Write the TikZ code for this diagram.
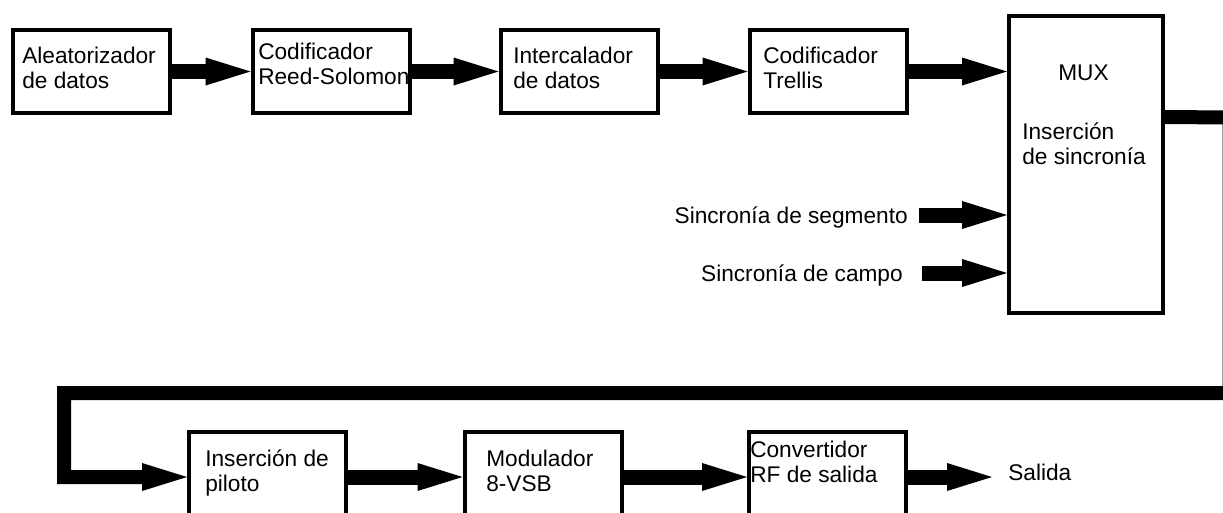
\documentclass[tikz,border=0pt]{standalone}
\usepackage{fontspec}
\setmainfont{Liberation Sans}
\usepackage{tikz}
\usetikzlibrary{
  positioning,
  calc,
  arrows.meta
}

\begin{document}
\begin{tikzpicture}[x=0.75pt,y=0.75pt,
  caja/.style={draw,line width=3pt,minimum width=117.75pt,minimum height=62.25pt,inner sep=0pt},
  texto/.style={anchor=north west,align=left,inner sep=0pt,font=\fontsize{17}{18.75}\selectfont},
  flecha/.style={line width=11.25pt,line join=miter,-{Triangle[length=33.75pt,width=21pt,line width=0pt]}}]
  % 描画範囲
  \useasboundingbox (0,0) rectangle (1223,512);
  \clip (0,0) rectangle (1223,512);

  % 上段のブロック
  \node[caja] (alea) at (91.5,440.5) {};
  \node[caja] (rs) at (331,440.5) {};
  \node[caja] (inter) at (579,440.5) {};
  \node[caja] (trel) at (828,440.5) {};
  \node[caja,minimum width=115.5pt,minimum height=222.75pt] (mux) at (1086,347.5) {};
  % 下段のブロック
  \node[caja,minimum height=67.5pt] (pil) at (267.5,35) {};
  \node[caja,minimum height=67.5pt] (mod) at (543,35) {};
  \node[caja,minimum height=67.5pt] (conv) at (827.5,35) {};

  % ブロックの文字
  \node[texto] (talea) at (22,465) {Aleatorizador\\de datos};
  \node[texto] (trs) at (258,469) {Codificador\\Reed-Solomon};
  \node[texto] (tinter) at (513,465) {Intercalador\\de datos};
  \node[texto] (ttrel) at (763,465) {Codificador\\Trellis};
  \node[texto] (tmux) at (1058,447) {MUX};
  \node[texto] (tsinc) at (1022,389) {Inserción\\de sincronía};
  \node[texto] (tpil) at (205,62) {Inserción de\\piloto};
  \node[texto] (tmod) at (486,62) {Modulador\\8-VSB};
  \node[texto] (tconv) at (750,71) {Convertidor\\RF de salida};

  % 同期信号の入力
  \node[texto,anchor=base east] (lseg) at (908,289) {Sincronía de segmento};
  \node[texto,anchor=base east] (lcam) at (903,231) {Sincronía de campo};
  \coordinate (cseg) at (919,297);
  \coordinate (ccam) at (922,239);
  \node[texto,anchor=base west] (sal) at (1008,32) {Salida};

  % 矢印
  \draw[flecha] (alea.east) -- (rs.west);
  \draw[flecha] (rs.east) -- (inter.west);
  \draw[flecha] (inter.east) -- (trel.west);
  \draw[flecha] (trel.east) -- (trel.east -| mux.west);
  \draw[flecha] (cseg) -- (cseg -| mux.west);
  \draw[flecha] (ccam) -- (ccam -| mux.west);
  \draw[flecha,line width=10.5pt] ($(mux.east)+(0,47.5)$) -- (1229.5,394.5) -- (1229.5,119) -- (64,119) -- (64,35) -- (pil.west);
  \draw[flecha] (pil.east) -- (mod.west);
  \draw[flecha] (mod.east) -- (conv.west);
  \draw[flecha,shorten >=12pt] (conv.east) -- (conv.east -| sal.west);
\end{tikzpicture}
\end{document}
